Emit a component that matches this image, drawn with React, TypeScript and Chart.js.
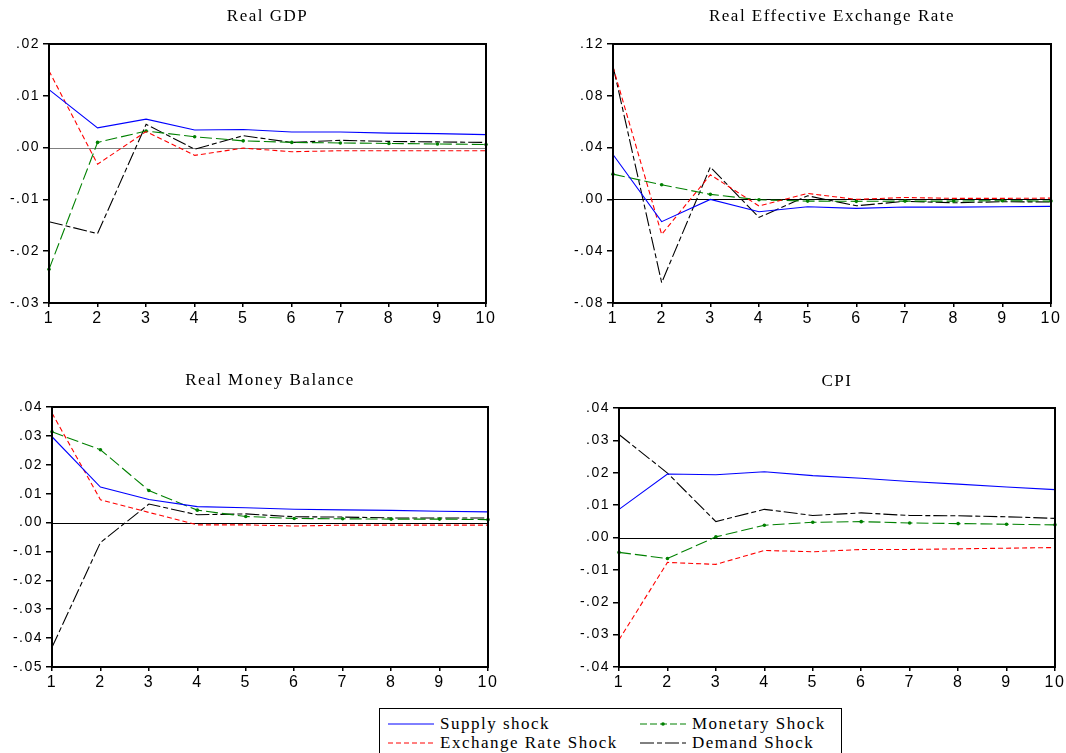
import React, { useEffect, useRef } from 'react';
import { Chart, registerables } from 'chart.js';

Chart.register(...registerables);

// ---------- data ----------
const periods = ['1', '2', '3', '4', '5', '6', '7', '8', '9', '10'];
const seriesNames = ['Supply shock', 'Exchange Rate Shock', 'Monetary Shock', 'Demand Shock'];

// Real GDP
const gdpSupply = [0.0112, 0.0038, 0.0055, 0.0034, 0.0035, 0.0030, 0.0030, 0.0028, 0.0027, 0.0025];
const gdpExchange = [0.0148, -0.0032, 0.0031, -0.0015, -0.0001, -0.0008, -0.0006, -0.0006, -0.0006, -0.0006];
const gdpMonetary = [-0.0235, 0.0010, 0.0032, 0.0021, 0.0013, 0.0010, 0.0009, 0.0008, 0.0007, 0.0006];
const gdpDemand = [-0.0143, -0.0166, 0.0045, -0.0003, 0.0023, 0.0010, 0.0014, 0.0012, 0.0011, 0.0010];

// Real Effective Exchange Rate
const reerSupply = [0.0347, -0.0172, 0.0000, -0.0095, -0.0057, -0.0069, -0.0059, -0.0060, -0.0057, -0.0054];
const reerExchange = [0.1023, -0.0270, 0.0190, -0.0051, 0.0046, 0.0000, 0.0015, 0.0008, 0.0008, 0.0010];
const reerMonetary = [0.0195, 0.0113, 0.0039, -0.0003, -0.0013, -0.0015, -0.0013, -0.0013, -0.0010, -0.0013];
const reerDemand = [0.1030, -0.0643, 0.0250, -0.0139, 0.0028, -0.0049, -0.0015, -0.0026, -0.0018, -0.0020];

// Real Money Balance
const rmbSupply = [0.0297, 0.0123, 0.0080, 0.0055, 0.0051, 0.0046, 0.0044, 0.0042, 0.0039, 0.0037];
const rmbExchange = [0.0379, 0.0079, 0.0035, -0.0008, -0.0008, -0.0012, -0.0009, -0.0009, -0.0009, -0.0009];
const rmbMonetary = [0.0314, 0.0252, 0.0111, 0.0043, 0.0021, 0.0014, 0.0013, 0.0012, 0.0012, 0.0010];
const rmbDemand = [-0.0432, -0.0069, 0.0064, 0.0027, 0.0030, 0.0020, 0.0019, 0.0016, 0.0016, 0.0016];

// CPI
const cpiSupply = [0.0087, 0.0196, 0.0194, 0.0203, 0.0191, 0.0183, 0.0173, 0.0165, 0.0156, 0.0148];
const cpiExchange = [-0.0316, -0.0077, -0.0083, -0.0040, -0.0044, -0.0037, -0.0037, -0.0035, -0.0033, -0.0031];
const cpiMonetary = [-0.0046, -0.0065, 0.0002, 0.0038, 0.0047, 0.0049, 0.0045, 0.0043, 0.0041, 0.0039];
const cpiDemand = [0.0318, 0.0199, 0.0049, 0.0087, 0.0068, 0.0076, 0.0068, 0.0067, 0.0064, 0.0059];

// ---------- styles ----------
const seriesStyles = [
  { color: '#0000FF', dash: [] as number[], points: 0 },
  { color: '#FF0000', dash: [5, 3], points: 0 },
  { color: '#008000', dash: [12, 4], points: 1.8 },
  { color: '#000000', dash: [14, 3, 5, 3], points: 0 },
];

const fmtTick = (v: any) => {
  const n = Number(v);
  if (Math.abs(n) < 1e-9) return '.00';
  return n.toFixed(2).replace('0.', '.');
};

const framePlugin = {
  id: 'panelFrame',
  beforeDraw(chart: any) {
    chart.ctx.letterSpacing = '1.5px';
  },
  beforeDatasetsDraw(chart: any, _args: any, opts: any) {
    const { ctx, chartArea } = chart;
    const y0 = chart.scales.y.getPixelForValue(0);
    ctx.save();
    ctx.strokeStyle = opts.zeroColor || '#000';
    ctx.lineWidth = 1;
    ctx.beginPath();
    ctx.moveTo(chartArea.left, Math.round(y0) + 0.5);
    ctx.lineTo(chartArea.right, Math.round(y0) + 0.5);
    ctx.stroke();
    ctx.restore();
  },
  afterDatasetsDraw(chart: any) {
    const { ctx, chartArea } = chart;
    ctx.save();
    ctx.strokeStyle = '#000';
    ctx.lineWidth = 2;
    ctx.strokeRect(chartArea.left, chartArea.top, chartArea.right - chartArea.left, chartArea.bottom - chartArea.top);
    ctx.restore();
  },
  afterDraw(chart: any, _args: any, opts: any) {
    const { ctx, chartArea } = chart;
    ctx.save();
    ctx.letterSpacing = '1.5px';
    ctx.fillStyle = '#000';
    ctx.font = '17px "Liberation Serif", "Times New Roman", serif';
    ctx.textAlign = 'center';
    ctx.textBaseline = 'middle';
    ctx.fillText(opts.text, (chartArea.left + chartArea.right) / 2, opts.y);
    ctx.restore();
    ctx.letterSpacing = '0px';
  },
};

type PanelProps = {
  title: string;
  series: number[][];
  yMin: number;
  yMax: number;
  yStep: number;
  left: number;
  top: number;
  width: number;
  height: number;
  padTop: number;
  axisW: number;
  axisH: number;
  padRight: number;
  titleY: number;
  zeroColor: string;
};

function Panel(p: PanelProps) {
  const ref = useRef<HTMLCanvasElement>(null);
  useEffect(() => {
    if (!ref.current) return;
    const chart = new Chart(ref.current, {
      type: 'line',
      data: {
        labels: periods,
        datasets: p.series.map((vals, i) => ({
          label: seriesNames[i],
          data: vals,
          borderColor: seriesStyles[i].color,
          backgroundColor: seriesStyles[i].color,
          borderWidth: 1.1,
          borderDash: seriesStyles[i].dash,
          pointRadius: seriesStyles[i].points,
          pointBorderWidth: 0,
          pointBackgroundColor: seriesStyles[i].color,
          tension: 0,
          fill: false,
        })),
      },
      options: {
        animation: false,
        responsive: false,
        maintainAspectRatio: false,
        devicePixelRatio: 1,
        layout: { padding: { top: p.padTop, right: p.padRight, left: 0, bottom: 0 } },
        plugins: {
          legend: { display: false },
          tooltip: { enabled: false },
          title: { display: false },
          panelFrame: { text: p.title, y: p.titleY, zeroColor: p.zeroColor },
        } as any,
        scales: {
          x: {
            type: 'category',
            offset: false,
            grid: { display: true, drawOnChartArea: false, drawTicks: true, tickLength: 4, color: '#000', lineWidth: 1.5 },
            border: { display: false },
            ticks: {
              autoSkip: false,
              maxRotation: 0,
              minRotation: 0,
              padding: 2,
              color: '#000',
              font: { family: '"Liberation Sans", Arial, sans-serif', size: 16 },
            },
            afterFit: (s: any) => {
              s.height = p.axisH;
            },
          },
          y: {
            type: 'linear',
            min: p.yMin,
            max: p.yMax,
            ticks: {
              stepSize: p.yStep,
              color: '#000',
              padding: 3,
              font: { family: '"Liberation Sans", Arial, sans-serif', size: 14 },
              callback: fmtTick,
            },
            grid: { display: true, drawOnChartArea: false, drawTicks: true, tickLength: 6, color: '#000', lineWidth: 1.5 },
            border: { display: false },
            afterFit: (s: any) => {
              s.width = p.axisW;
            },
          },
        },
      } as any,
      plugins: [framePlugin],
    });
    return () => chart.destroy();
  }, []);
  return (
    <canvas
      ref={ref}
      width={p.width}
      height={p.height}
      style={{ position: 'absolute', left: p.left, top: p.top, width: p.width, height: p.height }}
    />
  );
}

function LegendSample({ idx }: { idx: number }) {
  const st = seriesStyles[idx];
  return (
    <svg width={46} height={6} style={{ display: 'block' }}>
      <line
        x1={0}
        y1={3}
        x2={46}
        y2={3}
        stroke={st.color}
        strokeWidth={1}
        strokeDasharray={st.dash.length ? (idx === 2 ? '7,3' : idx === 3 ? '14,3,5,3' : st.dash.join(',')) : undefined}
      />
      {st.points ? <circle cx={23} cy={3} r={1.8} fill={st.color} /> : null}
    </svg>
  );
}

const legendItems = [
  { idx: 0, x: 8, tx: 60, y: 15 },
  { idx: 1, x: 8, tx: 60, y: 34 },
  { idx: 2, x: 260, tx: 312, y: 15 },
  { idx: 3, x: 260, tx: 312, y: 34 },
];

export default function App() {
  const panels: PanelProps[] = [
    {
      title: 'Real GDP',
      series: [gdpSupply, gdpExchange, gdpMonetary, gdpDemand],
      yMin: -0.03, yMax: 0.02, yStep: 0.01,
      left: 0, top: 0, width: 520, height: 335,
      padTop: 44, axisW: 49, axisH: 32, padRight: 34, titleY: 17, zeroColor: '#808080',
    },
    {
      title: 'Real Effective Exchange Rate',
      series: [reerSupply, reerExchange, reerMonetary, reerDemand],
      yMin: -0.08, yMax: 0.12, yStep: 0.04,
      left: 560, top: 0, width: 506, height: 335,
      padTop: 44, axisW: 53, axisH: 32, padRight: 15, titleY: 17, zeroColor: '#000',
    },
    {
      title: 'Real Money Balance',
      series: [rmbSupply, rmbExchange, rmbMonetary, rmbDemand],
      yMin: -0.05, yMax: 0.04, yStep: 0.01,
      left: 0, top: 360, width: 520, height: 340,
      padTop: 47, axisW: 52, axisH: 33, padRight: 32, titleY: 21, zeroColor: '#000',
    },
    {
      title: 'CPI',
      series: [cpiSupply, cpiExchange, cpiMonetary, cpiDemand],
      yMin: -0.04, yMax: 0.04, yStep: 0.01,
      left: 560, top: 360, width: 506, height: 340,
      padTop: 48, axisW: 59, axisH: 33, padRight: 11, titleY: 22, zeroColor: '#000',
    },
  ];
  return (
    <div style={{ position: 'absolute', left: 0, top: 0, width: 1066, height: 753, overflow: 'hidden', background: '#fff' }}>
      {panels.map((p) => (
        <Panel key={p.title} {...p} />
      ))}
      <div
        style={{
          position: 'absolute',
          left: 379,
          top: 708,
          width: 463,
          height: 60,
          border: '1px solid #000',
          boxSizing: 'border-box',
          background: '#fff',
        }}
      >
        {legendItems.map((it) => (
          <React.Fragment key={it.idx}>
            <div style={{ position: 'absolute', left: it.x, top: it.y - 3 }}>
              <LegendSample idx={it.idx} />
            </div>
            <div
              style={{
                position: 'absolute',
                left: it.tx,
                top: it.y - 10,
                height: 20,
                lineHeight: '20px',
                fontFamily: '"Liberation Serif", "Times New Roman", serif',
                fontSize: 17,
                letterSpacing: '1.5px',
                whiteSpace: 'nowrap',
                color: '#000',
              }}
            >
              {seriesNames[it.idx]}
            </div>
          </React.Fragment>
        ))}
      </div>
    </div>
  );
}
